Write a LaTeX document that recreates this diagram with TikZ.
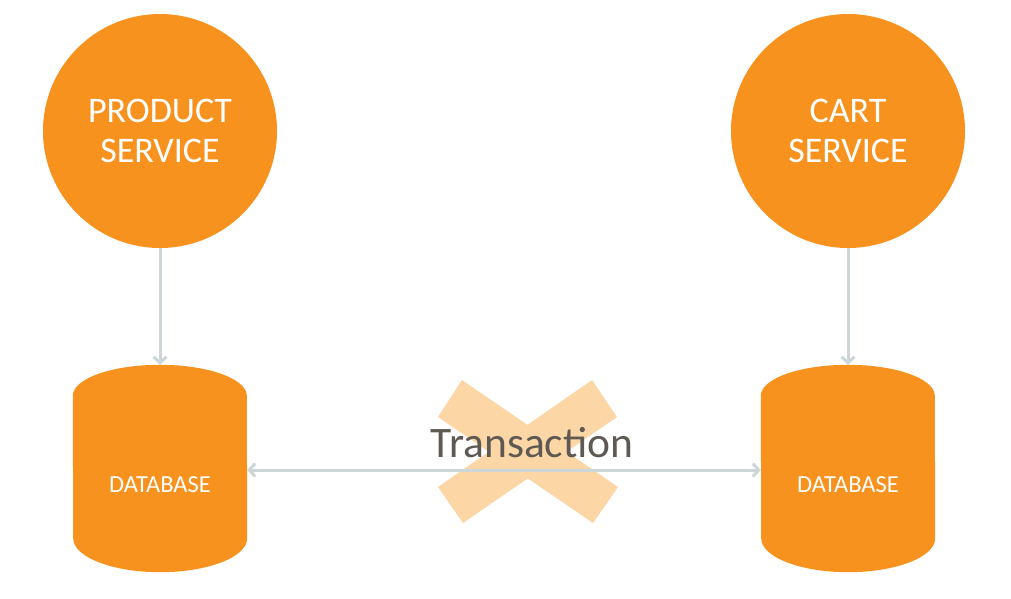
\documentclass[tikz,border=0pt]{standalone}
\usepackage{fontspec}
\setmainfont{Carlito}
\usetikzlibrary{arrows.meta}
\definecolor{svcorange}{RGB}{248,146,30}
\definecolor{linkgray}{RGB}{204,214,216}
\definecolor{crossfill}{RGB}{253,214,166}
\definecolor{txtgray}{RGB}{94,89,83}
\tikzset{
  svc/.style={circle, fill=svcorange, text=white, minimum size=234pt, inner sep=0pt, align=center,
    font=\fontsize{36}{40}\selectfont},
  dbnode/.style={rectangle, minimum width=174pt, minimum height=207pt, inner sep=0pt},
  dblabel/.style={text=white, font=\fontsize{24.5}{28}\selectfont},
  link/.style={draw=linkgray, line width=3pt, -{Straight Barb[length=6pt,width=13pt]}},
  dlink/.style={draw=linkgray, line width=3pt, {Straight Barb[length=6pt,width=13pt]}-{Straight Barb[length=6pt,width=13pt]}},
  crossarm/.style={fill=crossfill},
}
\begin{document}
\begin{tikzpicture}[x=1pt,y=-1pt]
\useasboundingbox (0,0) rectangle (1011,598);
\fill[white] (0,0) rectangle (1011,598);
% services
\node[svc] (ps) at (160,131) {PRODUCT\\SERVICE};
\node[svc] (cs) at (848,131) {CART\\SERVICE};
% databases (names + shapes)
\node[dbnode] (db1) at (160,468.5) {};
\node[dbnode] (db2) at (848,468.5) {};
\foreach \d in {db1,db2}{
  \fill[svcorange] ([yshift=-31pt]\d.north west)
    arc[start angle=180, end angle=0, x radius=87pt, y radius=31pt]
    -- ([yshift=34pt]\d.south east)
    arc[start angle=0, end angle=-180, x radius=87pt, y radius=34pt]
    -- cycle;
}
\node[dblabel] (db1t) at ([yshift=-16pt]db1.center) {DATABASE};
\node[dblabel] (db2t) at ([yshift=-16pt]db2.center) {DATABASE};
% cross
\fill[crossarm] (462,380) -- (618,487) -- (593,523) -- (438,417) -- cycle;
\fill[crossarm] (592,380) -- (617,417) -- (463,523) -- (438,487) -- cycle;
% connectors
\draw[link] (ps.south) -- (db1.north);
\draw[link] (cs.south) -- (db2.north);
\draw[dlink] ([yshift=-1.5pt]db1.east) -- ([yshift=-1.5pt]db2.west);
\node[text=txtgray, font=\fontsize{43.5}{48}\selectfont, anchor=base] (tr) at (532,457) {Transaction};
\end{tikzpicture}
\end{document}
